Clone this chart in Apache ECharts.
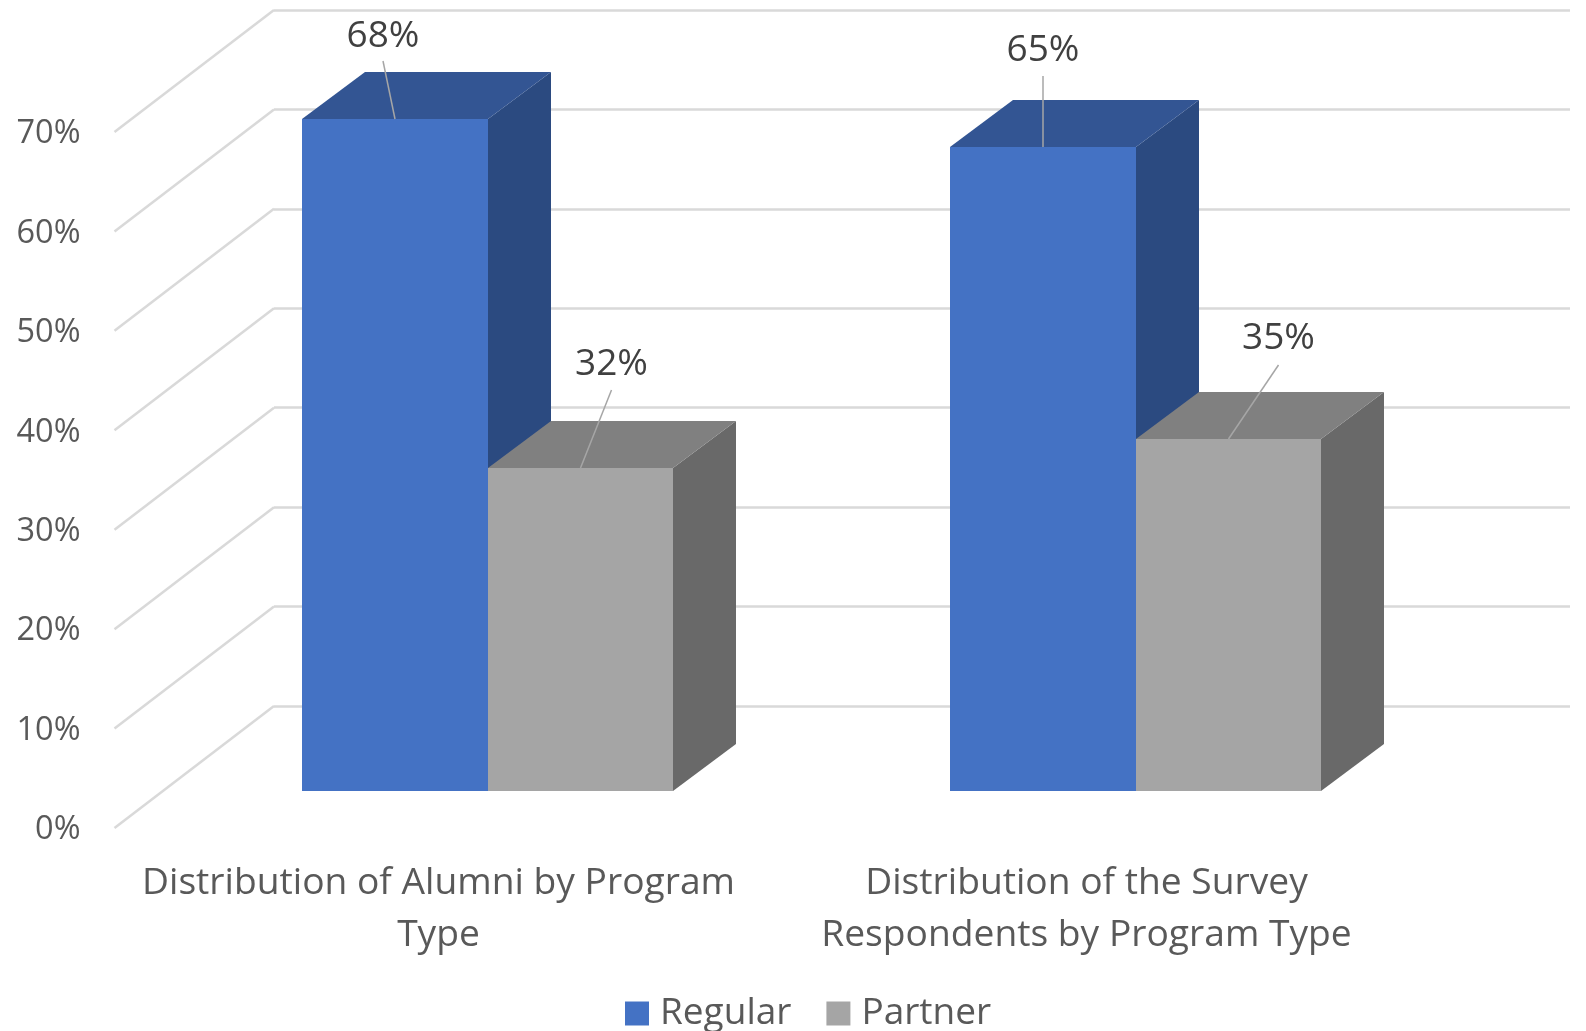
<!DOCTYPE html>
<html>
<head>
<meta charset="utf-8">
<style>html,body{margin:0;padding:0;background:#fff}#c{width:1586px;height:1031px}</style>
<script src="https://cdn.jsdelivr.net/npm/echarts@6/dist/echarts.min.js"></script>
</head>
<body>
<div id="c"></div>
<script>
const categories = ['Distribution of Alumni by Program\nType', 'Distribution of the Survey\nRespondents by Program Type'];
const regularValues = [67.6, 64.8];
const partnerValues = [32.49, 35.4];
const yTicks = [0, 10, 20, 30, 40, 50, 60, 70];

const FONT = '"Open Sans", sans-serif';
const W = 1296, H = 696;
const wallDepth = [159.5, -122];
const barDepth = [63, -47.5];
const barW = 185.2;
const labelOffsets = {
  Regular: [[-12, -83, -12, -58], [0, -97, 0, -71]],
  Partner: [[31, -104, 31, -78], [50, -101, 50, -74]]
};

function barSeries(name, values, side, front, top, dark) {
  return {
    name, type: 'custom', xAxisIndex: 2, yAxisIndex: 2, z: 5 + (side > 0 ? 1 : 0), clip: false,
    itemStyle: { color: front },
    encode: { x: 0, y: 1 },
    data: values.map((v, i) => [i, v]),
    renderItem(params, api) {
      const i = api.value(0), v = api.value(1);
      const t = api.coord([i, v]), b = api.coord([i, 0]);
      const ty = Math.round(t[1]), by = Math.round(b[1]);
      const xl = side > 0 ? t[0] : t[0] - barW;
      const x0 = Math.round(xl), x1 = Math.round(xl + barW);
      const dx = barDepth[0], dy = Math.round(barDepth[1]);
      const poly = (points, fill) => ({ type: 'polygon', shape: { points }, style: { fill } });
      const mid = (x0 + x1) / 2;
      const o = labelOffsets[name][i];
      return {
        type: 'group',
        children: [
          poly([[x1, ty], [x1 + dx, ty + dy], [x1 + dx, by + dy], [x1, by]], dark),
          poly([[x0, ty], [x0 + dx, ty + dy], [x1 + dx, ty + dy], [x1, ty]], top),
          { type: 'rect', shape: { x: x0, y: ty, width: x1 - x0, height: by - ty }, style: { fill: front } },
          { type: 'line', shape: { x1: mid, y1: ty, x2: mid + o[2], y2: ty + o[3] },
            style: { stroke: '#a6a6a6', lineWidth: 1.5 } },
          { type: 'text', x: mid + o[0], y: ty + o[1],
            style: { text: Math.round(v) + '%', fill: '#404040', font: '37px ' + FONT, align: 'center', verticalAlign: 'middle' } }
        ]
      };
    }
  };
}

const option = {
  backgroundColor: '#ffffff',
  animation: false,
  legend: {
    data: ['Regular', 'Partner'], left: 620, top: 990, itemWidth: 24, itemHeight: 24, itemGap: 35,
    icon: 'rect',
    textStyle: { color: '#595959', fontFamily: FONT, fontSize: 37, padding: [4, 0, 0, 6] }
  },
  grid: [
    { left: 274, top: 10, width: W, height: H },
    { left: 114.5, top: 132, width: W, height: H },
    { left: 163.5, top: 95, width: W, height: H }
  ],
  xAxis: [
    { gridIndex: 0, type: 'category', data: categories, show: false },
    { gridIndex: 1, type: 'category', data: categories,
      axisLine: { show: false }, axisTick: { show: false },
      axisLabel: { color: '#595959', fontFamily: FONT, fontSize: 37.2, lineHeight: 52, margin: 29, interval: 0 } },
    { gridIndex: 2, type: 'category', data: categories, show: false }
  ],
  yAxis: [
    { gridIndex: 0, type: 'value', min: 0, max: 70, interval: 10,
      axisLine: { show: false }, axisTick: { show: false }, axisLabel: { show: false },
      splitLine: { lineStyle: { color: '#d9d9d9', width: 2.5 } } },
    { gridIndex: 1, type: 'value', min: 0, max: 70, interval: 10,
      axisLine: { show: false }, axisTick: { show: false }, splitLine: { show: false },
      axisLabel: { formatter: '{value}%', color: '#595959', fontFamily: FONT, fontSize: 32.5, margin: 34, verticalAlign: 'top', lineHeight: 4 } },
    { gridIndex: 2, type: 'value', min: 0, max: 70, interval: 10, show: false }
  ],
  series: [
    {
      type: 'custom', name: 'wall', xAxisIndex: 1, yAxisIndex: 1, z: 1, silent: true, clip: false,
      encode: { y: 0 },
      data: yTicks.map(v => [v]),
      renderItem(params, api) {
        const p = api.coord([0, api.value(0)]);
        const x = params.coordSys.x;
        return { type: 'line', shape: { x1: x, y1: p[1], x2: x + wallDepth[0], y2: p[1] + wallDepth[1] },
          style: { stroke: '#d9d9d9', lineWidth: 2.5 } };
      }
    },
    barSeries('Regular', regularValues, -1, '#4472c4', '#335593', '#2b4a80'),
    barSeries('Partner', partnerValues, 1, '#a5a5a5', '#808080', '#696969')
  ]
};
echarts.init(document.getElementById('c'), null, { renderer: 'canvas' }).setOption(option);
</script>
</body>
</html>
